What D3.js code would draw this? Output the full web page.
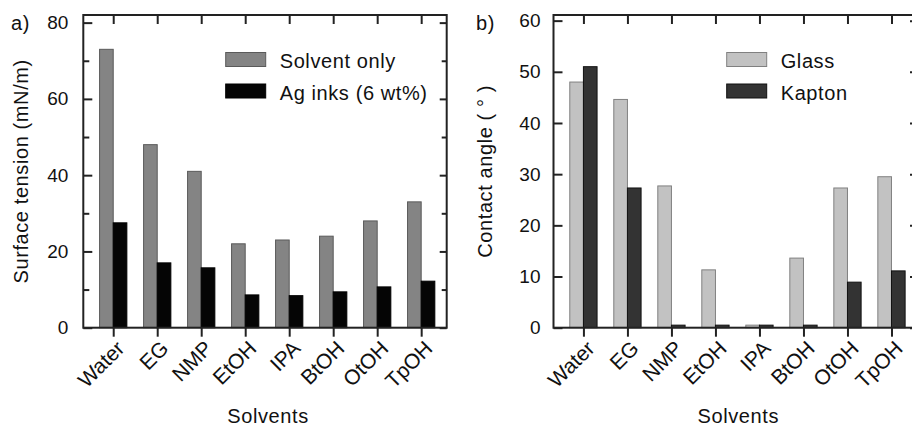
<!DOCTYPE html>
<html>
<head>
<meta charset="utf-8">
<script src="https://cdn.jsdelivr.net/npm/d3@7"></script>
<style>
  body { margin: 0; background: #fff; }
  svg { display: block; font-family: "Liberation Sans", Arial, sans-serif; }
  .frame { fill: none; stroke: #222; stroke-width: 2; }
  .axis path { display: none; }
  .axis line { stroke: #222; stroke-width: 2; }
  .axis text { font-size: 19px; fill: #111; }
  .cat text { font-size: 21px; fill: #111; }
  .title { font-size: 20px; fill: #111; letter-spacing: 0.6px; }
</style>
</head>
<body>
<svg id="chart" width="912" height="426"></svg>
<script>
// data
const categories = ['Water', 'EG', 'NMP', 'EtOH', 'IPA', 'BtOH', 'OtOH', 'TpOH'];
const solventOnly = [73, 48, 41, 22, 23, 24, 28, 33];
const agInks = [27.5, 17, 15.7, 8.6, 8.4, 9.4, 10.7, 12.2];
const glass = [48, 44.6, 27.7, 11.3, 0.5, 13.6, 27.3, 29.5];
const kapton = [51, 27.3, 0.5, 0.5, 0.5, 0.5, 8.9, 11.1];
const tensionTicks = [0, 20, 40, 60, 80];
const tensionMinor = [10, 30, 50, 70];
const angleTicks = [0, 10, 20, 30, 40, 50, 60];

const svg = d3.select('#chart');

function drawPanel(p) {
  const x = d3.scaleLinear().domain([0.32, 8.58]).range([p.left, p.right]);
  const y = d3.scaleLinear().domain([0, p.ymax]).range([p.bottom, p.top]);
  const barW = x(1.31) - x(1);
  const idx = categories.map((c, i) => i + 1);
  const g = svg.append('g');

  // bars
  p.series.forEach((s, k) => {
    g.append('g').selectAll('rect')
      .data(s.values)
      .enter().append('rect')
      .attr('x', (d, i) => k === 0 ? x(i + 1) - barW : x(i + 1))
      .attr('y', d => y(d))
      .attr('width', barW)
      .attr('height', d => y(0) - y(d))
      .attr('fill', s.fill)
      .attr('stroke', s.stroke)
      .attr('stroke-width', 1);
  });

  // frame
  g.append('rect').attr('class', 'frame')
    .attr('x', p.left).attr('y', p.top)
    .attr('width', p.right - p.left).attr('height', p.bottom - p.top);

  // left axis, ticks inward
  g.append('g').attr('class', 'axis')
    .attr('transform', `translate(${p.left},0)`)
    .call(d3.axisLeft(y).tickValues(p.ticks).tickSize(-9).tickPadding(p.pad));
  // right axis, ticks inward
  g.append('g').attr('class', 'axis')
    .attr('transform', `translate(${p.right},0)`)
    .call(d3.axisRight(y).tickValues(p.ticks).tickSize(-7).tickFormat(''));
  if (p.minor) {
    g.append('g').attr('class', 'axis')
      .attr('transform', `translate(${p.left},0)`)
      .call(d3.axisLeft(y).tickValues(p.minor).tickSize(-6).tickFormat(''));
    g.append('g').attr('class', 'axis')
      .attr('transform', `translate(${p.right},0)`)
      .call(d3.axisRight(y).tickValues(p.minor).tickSize(-5).tickFormat(''));
  }
  // top axis, ticks inward
  g.append('g').attr('class', 'axis')
    .attr('transform', `translate(0,${p.top})`)
    .call(d3.axisTop(x).tickValues(idx).tickSize(-9).tickFormat(''));
  // bottom axis with rotated category labels
  const bx = g.append('g').attr('class', 'axis cat')
    .attr('transform', `translate(0,${p.bottom})`)
    .call(d3.axisBottom(x).tickValues(idx).tickSize(9).tickFormat(d => categories[d - 1]));
  bx.selectAll('text')
    .attr('x', 0).attr('y', 0).attr('dy', 0)
    .attr('text-anchor', 'end')
    .attr('transform', 'translate(12,22) rotate(-45)');

  // titles
  g.append('text').attr('class', 'title')
    .attr('x', p.labelX).attr('y', 30)
    .text(p.label);
  g.append('text').attr('class', 'title')
    .attr('text-anchor', 'middle')
    .attr('transform', `translate(${p.ytitleX},${(p.top + p.bottom) / 2}) rotate(-90)`)
    .text(p.ytitle);
  g.append('text').attr('class', 'title')
    .attr('text-anchor', 'middle')
    .attr('x', (p.left + p.right) / 2 + 3).attr('y', 423)
    .text('Solvents');

  // legend
  p.series.forEach((s, k) => {
    const ly = 52.5 + k * 31.5;
    g.append('rect')
      .attr('x', p.legendX).attr('y', ly)
      .attr('width', 40).attr('height', 14)
      .attr('fill', s.fill).attr('stroke', s.stroke).attr('stroke-width', 1);
    g.append('text').attr('class', 'title')
      .attr('x', p.legendX + 54).attr('y', ly + 15.5)
      .text(s.name);
  });
}

drawPanel({
  left: 83.3, right: 446.7, top: 15, bottom: 327.7, ymax: 82,
  ticks: tensionTicks, minor: tensionMinor, pad: 15,
  label: 'a)', labelX: 11, ytitle: 'Surface tension (mN/m)', ytitleX: 28,
  legendX: 225.7,
  series: [
    { name: 'Solvent only', values: solventOnly, fill: '#848484', stroke: '#5a5a5a' },
    { name: 'Ag inks (6 wt%)', values: agInks, fill: '#050505', stroke: '#000' }
  ]
});

drawPanel({
  left: 553.5, right: 917, top: 15, bottom: 327.7, ymax: 61.1,
  ticks: angleTicks, minor: null, pad: 13,
  label: 'b)', labelX: 476, ytitle: 'Contact angle ( ° )', ytitleX: 491.5,
  legendX: 726.7,
  series: [
    { name: 'Glass', values: glass, fill: '#c2c2c2', stroke: '#808080' },
    { name: 'Kapton', values: kapton, fill: '#333', stroke: '#111' }
  ]
});
</script>
</body>
</html>
